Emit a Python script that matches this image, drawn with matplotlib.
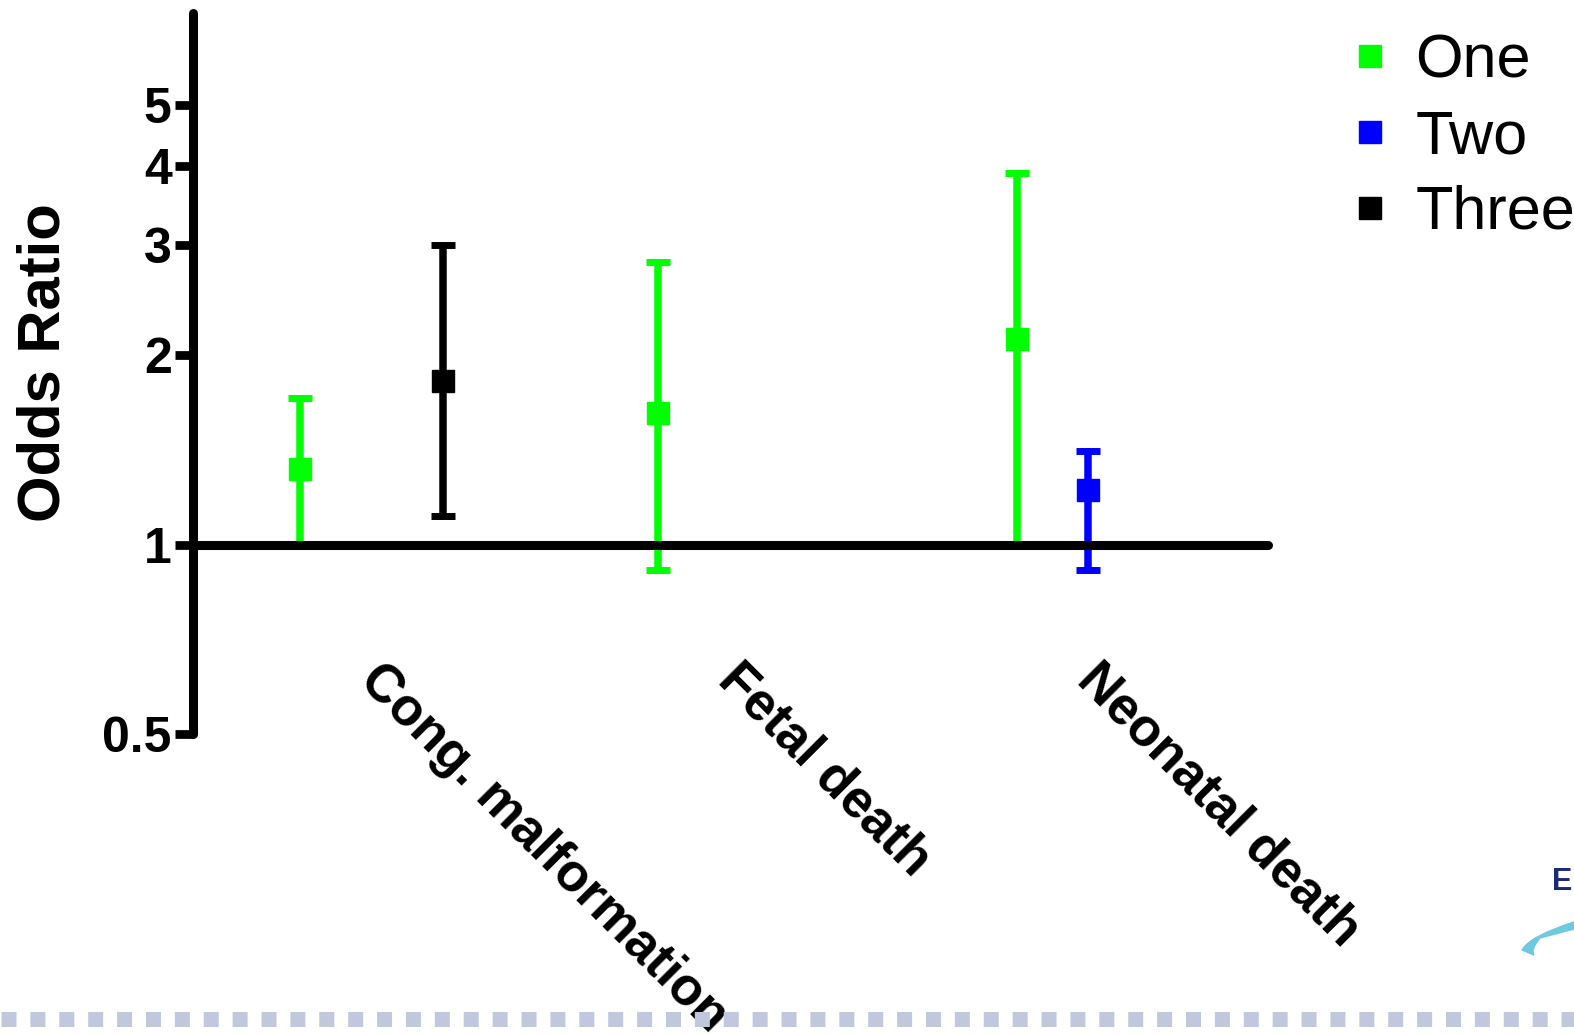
import numpy as np
import matplotlib
matplotlib.use("Agg")
import matplotlib.pyplot as plt
from matplotlib.lines import Line2D
from matplotlib.path import Path
from matplotlib.patches import PathPatch
from matplotlib.transforms import ScaledTranslation
from matplotlib.ticker import NullLocator

plt.rcParams['font.family'] = ['Liberation Sans', 'DejaVu Sans']

outcomes = ['Cong. malformation', 'Fetal death', 'Neonatal death']
groups = ['One', 'Two', 'Three']
colors = ['#00ff00', '#0000ff', '#000000']
offsets = [-0.2, 0.0, 0.2]

# odds ratios with CI, per group (index = outcome)
one_idx = [0, 1, 2]
one_or = [1.32, 1.62, 2.12]
one_lo = [1.00, 0.91, 1.00]
one_hi = [1.71, 2.81, 3.90]

two_idx = [2]
two_or = [1.22]
two_lo = [0.91]
two_hi = [1.41]

three_idx = [0]
three_or = [1.82]
three_lo = [1.11]
three_hi = [3.00]

yticks = [0.5, 1, 2, 3, 4, 5]
ytick_labels = ['0.5', '1', '2', '3', '4', '5']

fig = plt.figure(figsize=(15.74, 10.34), dpi=100)
ax = fig.add_axes([0.1223, 0.2903, 0.6831, 0.697])

series = [(one_idx, one_or, one_lo, one_hi),
          (two_idx, two_or, two_lo, two_hi),
          (three_idx, three_or, three_lo, three_hi)]

for (idx, est, lo, hi), col, off in zip(series, colors, offsets):
    x = np.array(idx) + off
    est = np.array(est)
    yerr = [est - np.array(lo), np.array(hi) - est]
    eb = ax.errorbar(x, est, yerr=yerr, fmt='s', color=col, ms=15.5, mec=col,
                     elinewidth=5.4, capsize=8.5, capthick=5)
    for cap in eb[1]:
        cap.set_solid_capstyle('round')

ax.set_yscale('log')
ax.set_ylim(0.5, 7)
ax.set_xlim(-0.5, 2.5)

# spines first: moving the bottom spine resets the x ticks
for s in ['top', 'right']:
    ax.spines[s].set_visible(False)
ax.spines['bottom'].set_position(('data', 1))
for s in ['bottom', 'left']:
    ax.spines[s].set_linewidth(6.5)
    ax.spines[s].set_capstyle('round')

ax.tick_params(axis='y', length=13, width=6.3, pad=2)
ax.tick_params(axis='x', length=0, pad=79)
ax.set_yticks(yticks)
ax.set_yticklabels(ytick_labels)
ax.yaxis.set_minor_locator(NullLocator())
for lbl in ax.get_yticklabels():
    lbl.set_fontsize(36)
    lbl.set_fontweight('bold')

ax.set_xticks(range(len(outcomes)))
ax.set_xticklabels(outcomes, rotation=-45, ha='left', va='top',
                   rotation_mode='anchor', fontsize=38, fontweight='bold')
shift = ScaledTranslation(0.14, 0, fig.dpi_scale_trans)
for lbl in ax.get_xticklabels():
    lbl.set_transform(lbl.get_transform() + shift)

ax.set_ylabel('Odds Ratio', fontsize=43, fontweight='bold')
ax.yaxis.set_label_coords(-0.113, 0.515)

handles = [Line2D([], [], ls='none', marker='s', ms=15.5, color=c, mec=c) for c in colors]
fig.legend(handles, groups, loc='upper left', bbox_to_anchor=(0.8588, 0.968),
           frameon=False, fontsize=44, borderpad=0, borderaxespad=0,
           handlelength=0.6, handletextpad=0.44, labelspacing=0.31)

# dotted band at the bottom of the slide
fig.add_artist(Line2D([1 / 1574, 1], [0.0143, 0.0143], transform=fig.transFigure,
                      color='#c1c8dd', lw=10.8, ls=(0, (1.0, 0.926)),
                      dash_capstyle='butt'))

# partial logo at the right edge
fig.text(1552 / 1574, 1 - 890 / 1034, 'E', fontsize=22, fontweight='bold',
         color='#1b2a78', ha='left', va='baseline')
px = lambda x, y: (x / 100, (1034 - y) / 100)
verts = [px(1574, 922), px(1530, 936), px(1522, 950), px(1534, 955),
         px(1530, 950), px(1540, 938), px(1574, 929), px(1574, 922)]
codes = [Path.MOVETO, Path.CURVE3, Path.CURVE3, Path.LINETO,
         Path.CURVE3, Path.CURVE3, Path.LINETO, Path.CLOSEPOLY]
fig.add_artist(PathPatch(Path(verts, codes), transform=fig.dpi_scale_trans,
                         facecolor='#6ec8df', edgecolor='#6ec8df', lw=1))

fig.savefig('out.png', dpi=100)
